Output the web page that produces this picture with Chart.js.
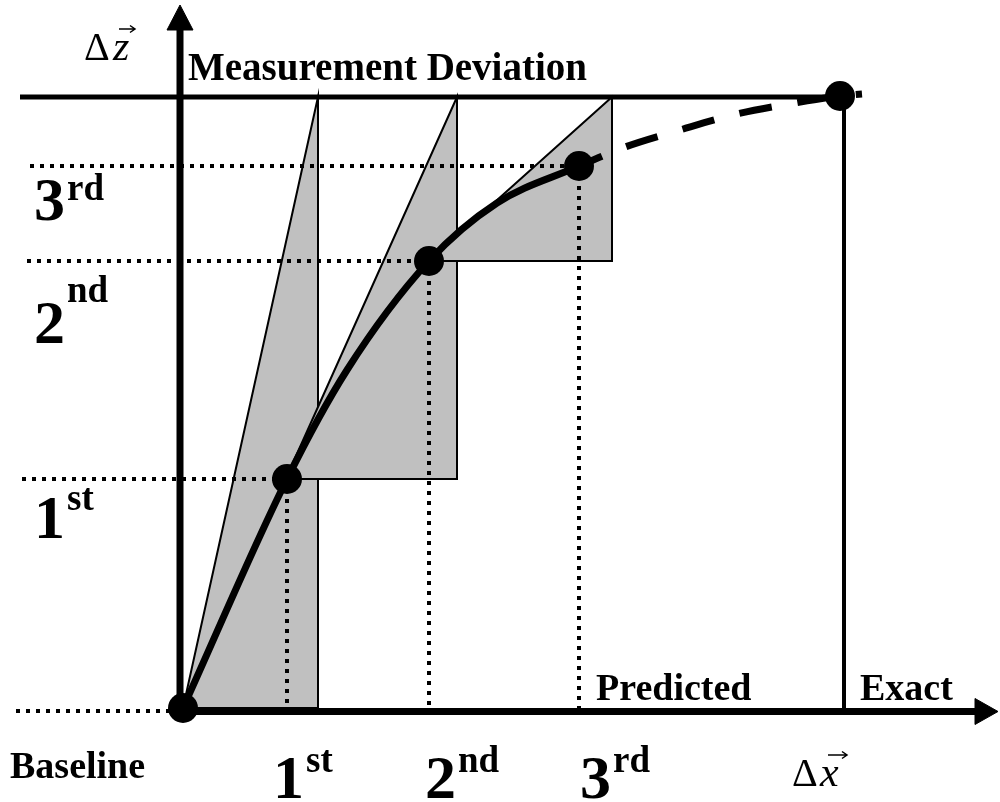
<!DOCTYPE html>
<html>
<head>
<meta charset="utf-8">
<script src="https://cdn.jsdelivr.net/npm/chart.js@4.4.1/dist/chart.umd.min.js"></script>
<style>
  html, body { margin: 0; padding: 0; background: #fff; }
  #wrap { width: 1000px; height: 802px; position: relative; }
</style>
</head>
<body>
<div id="wrap"><canvas id="diagram"></canvas></div>
<script>
// ordinal labels of the measurement steps
const stepNums = ['1', '2', '3'];
const stepSuffix = ['st', 'nd', 'rd'];

// measurement points (x deviation, z deviation)
const stepX = [1.04, 2.46, 3.96];
const stepZ = [2.29, 4.47, 5.42];

// solid curve
const curveX = [0, 1.04, 1.64, 2.46, 3.14, 3.96];
const curveZ = [0, 2.29, 3.38, 4.47, 5.05, 5.42];

// predicted part (dashed) up to the exact point
const predX = [3.96, 4.42, 4.97, 5.54, 6.12, 6.57, 6.79];
const predZ = [5.42, 5.61, 5.78, 5.94, 6.05, 6.12, 6.14];

const exactX = 6.57;
const exactZ = 6.12;
const limitZ = 6.11;               // measurement deviation line
const wedgeX = [1.35, 2.74, 4.29]; // right edges of the grey wedges
const guideStart = [-1.61, -1.56, -1.53];

const axisX = -0.03;
const axisZ = -0.035;

const GREY = '#c0c0c0';
const BLACK = '#000';

function pts(xs, zs) {
    return xs.map((x, i) => ({ x: x, y: zs[i] }));
}

function lineSet(data, width, extra) {
    return Object.assign({
        data: data,
        showLine: true,
        borderColor: BLACK,
        borderWidth: width,
        pointRadius: 0,
        fill: false,
        tension: 0
    }, extra || {});
}

function shapeSet(data, color, border, order) {
    return lineSet(data, border, {
        backgroundColor: color,
        fill: 'shape',
        order: order
    });
}

const datasets = [];

// grey wedges
datasets.push(shapeSet(pts([0, wedgeX[0], wedgeX[0], 0], [0, limitZ, 0, 0]), GREY, 2, 30));
datasets.push(shapeSet(pts([0, wedgeX[1], wedgeX[1], stepX[0], 0],
                           [0, limitZ, stepZ[0], stepZ[0], 0]), GREY, 2, 29));
datasets.push(shapeSet(pts([stepX[1], wedgeX[2], wedgeX[2], stepX[1]],
                           [stepZ[1], limitZ, stepZ[1], stepZ[1]]), GREY, 2, 28));

// dotted guides
const dotted = { borderDash: [4, 6], borderCapStyle: 'butt', order: 20 };
for (let i = 0; i < stepX.length; i++) {
    datasets.push(lineSet(pts([guideStart[i], stepX[i]], [stepZ[i], stepZ[i]]), 4, dotted));
    datasets.push(lineSet(pts([stepX[i], stepX[i]], [stepZ[i], 0]), 4, dotted));
}
datasets.push(lineSet(pts([-1.67, 0], [-0.03, -0.03]), 4, dotted));

// limit line and exact line
datasets.push(lineSet(pts([-1.63, exactX], [limitZ, limitZ]), 5, { order: 12 }));
datasets.push(lineSet(pts([exactX + 0.04, exactX + 0.04], [limitZ, axisZ]), 4, { order: 12 }));

// axes with arrow heads
datasets.push(lineSet(pts([axisX, axisX], [-0.07, 6.85]), 7, { order: 10 }));
datasets.push(lineSet(pts([axisX, 7.95], [axisZ, axisZ]), 7, { order: 10 }));
datasets.push(shapeSet(pts([axisX - 0.13, axisX, axisX + 0.13, axisX - 0.13],
                           [6.78, 7.03, 6.78, 6.78]), BLACK, 1, 10));
datasets.push(shapeSet(pts([7.92, 8.15, 7.92, 7.92],
                           [axisZ + 0.13, axisZ, axisZ - 0.13, axisZ + 0.13]), BLACK, 1, 10));

// curves
datasets.push(lineSet(pts(curveX, curveZ), 7, { cubicInterpolationMode: 'monotone', order: 5 }));
datasets.push(lineSet(pts(predX, predZ), 7, {
    cubicInterpolationMode: 'monotone',
    borderDash: [33, 26],
    borderDashOffset: 8,
    borderCapStyle: 'butt',
    order: 5
}));

// points
datasets.push({
    data: pts([0].concat(stepX, [exactX]), [0].concat(stepZ, [exactZ])),
    showLine: false,
    pointRadius: 15,
    pointBorderWidth: 0,
    backgroundColor: BLACK,
    order: 1
});

const serif = "'Liberation Serif', 'Times New Roman', serif";

function vecArrow(ctx, x1, x2, y) {
    ctx.beginPath();
    ctx.lineWidth = 1.5;
    ctx.moveTo(x1, y);
    ctx.lineTo(x2, y);
    ctx.moveTo(x2 - 5, y - 3.5);
    ctx.lineTo(x2, y);
    ctx.lineTo(x2 - 5, y + 3.5);
    ctx.stroke();
}

const textPlugin = {
    id: 'diagramText',
    afterDraw(chart) {
        const ctx = chart.ctx;
        ctx.save();
        ctx.fillStyle = BLACK;
        ctx.strokeStyle = BLACK;
        ctx.textAlign = 'left';
        ctx.textBaseline = 'alphabetic';

        ctx.font = 'bold 39px ' + serif;
        ctx.fillText('Measurement Deviation', 188, 80);
        ctx.font = 'bold 38px ' + serif;
        ctx.fillText('Baseline', 10, 778);
        ctx.fillText('Predicted', 596, 700);
        ctx.fillText('Exact', 860, 700);

        // ordinals on the z axis
        const leftBase = [538, 343, 220];
        const leftSup = [510, 302, 200];
        // ordinals on the x axis
        const bottomX = [273, 425, 580];
        for (let i = 0; i < stepNums.length; i++) {
            ctx.font = 'bold 62px ' + serif;
            ctx.fillText(stepNums[i], 34, leftBase[i]);
            ctx.fillText(stepNums[i], bottomX[i], 798);
            const w = ctx.measureText(stepNums[i]).width;
            ctx.font = 'bold 37px ' + serif;
            ctx.fillText(stepSuffix[i], 34 + w + 2, leftSup[i]);
            ctx.fillText(stepSuffix[i], bottomX[i] + w + 2, 772);
        }

        // vector labels
        ctx.font = '40px ' + serif;
        ctx.fillText('\u0394', 84, 60);
        ctx.fillText('\u0394', 792, 786);
        ctx.font = 'italic 42px ' + serif;
        ctx.fillText('z', 113, 60);
        ctx.fillText('x', 820, 786);
        vecArrow(ctx, 119, 135, 29);
        vecArrow(ctx, 828, 847, 755);
        ctx.restore();
    }
};

new Chart(document.getElementById('diagram'), {
    type: 'scatter',
    data: { datasets: datasets },
    options: {
        responsive: true,
        maintainAspectRatio: false,
        animation: false,
        events: [],
        layout: { padding: 0, autoPadding: false },
        scales: {
            x: { type: 'linear', min: -1.83, max: 8.17, display: false },
            y: { type: 'linear', min: -0.94, max: 7.08, display: false }
        },
        plugins: {
            legend: { display: false },
            tooltip: { enabled: false }
        }
    },
    plugins: [textPlugin]
});
</script>
</body>
</html>
